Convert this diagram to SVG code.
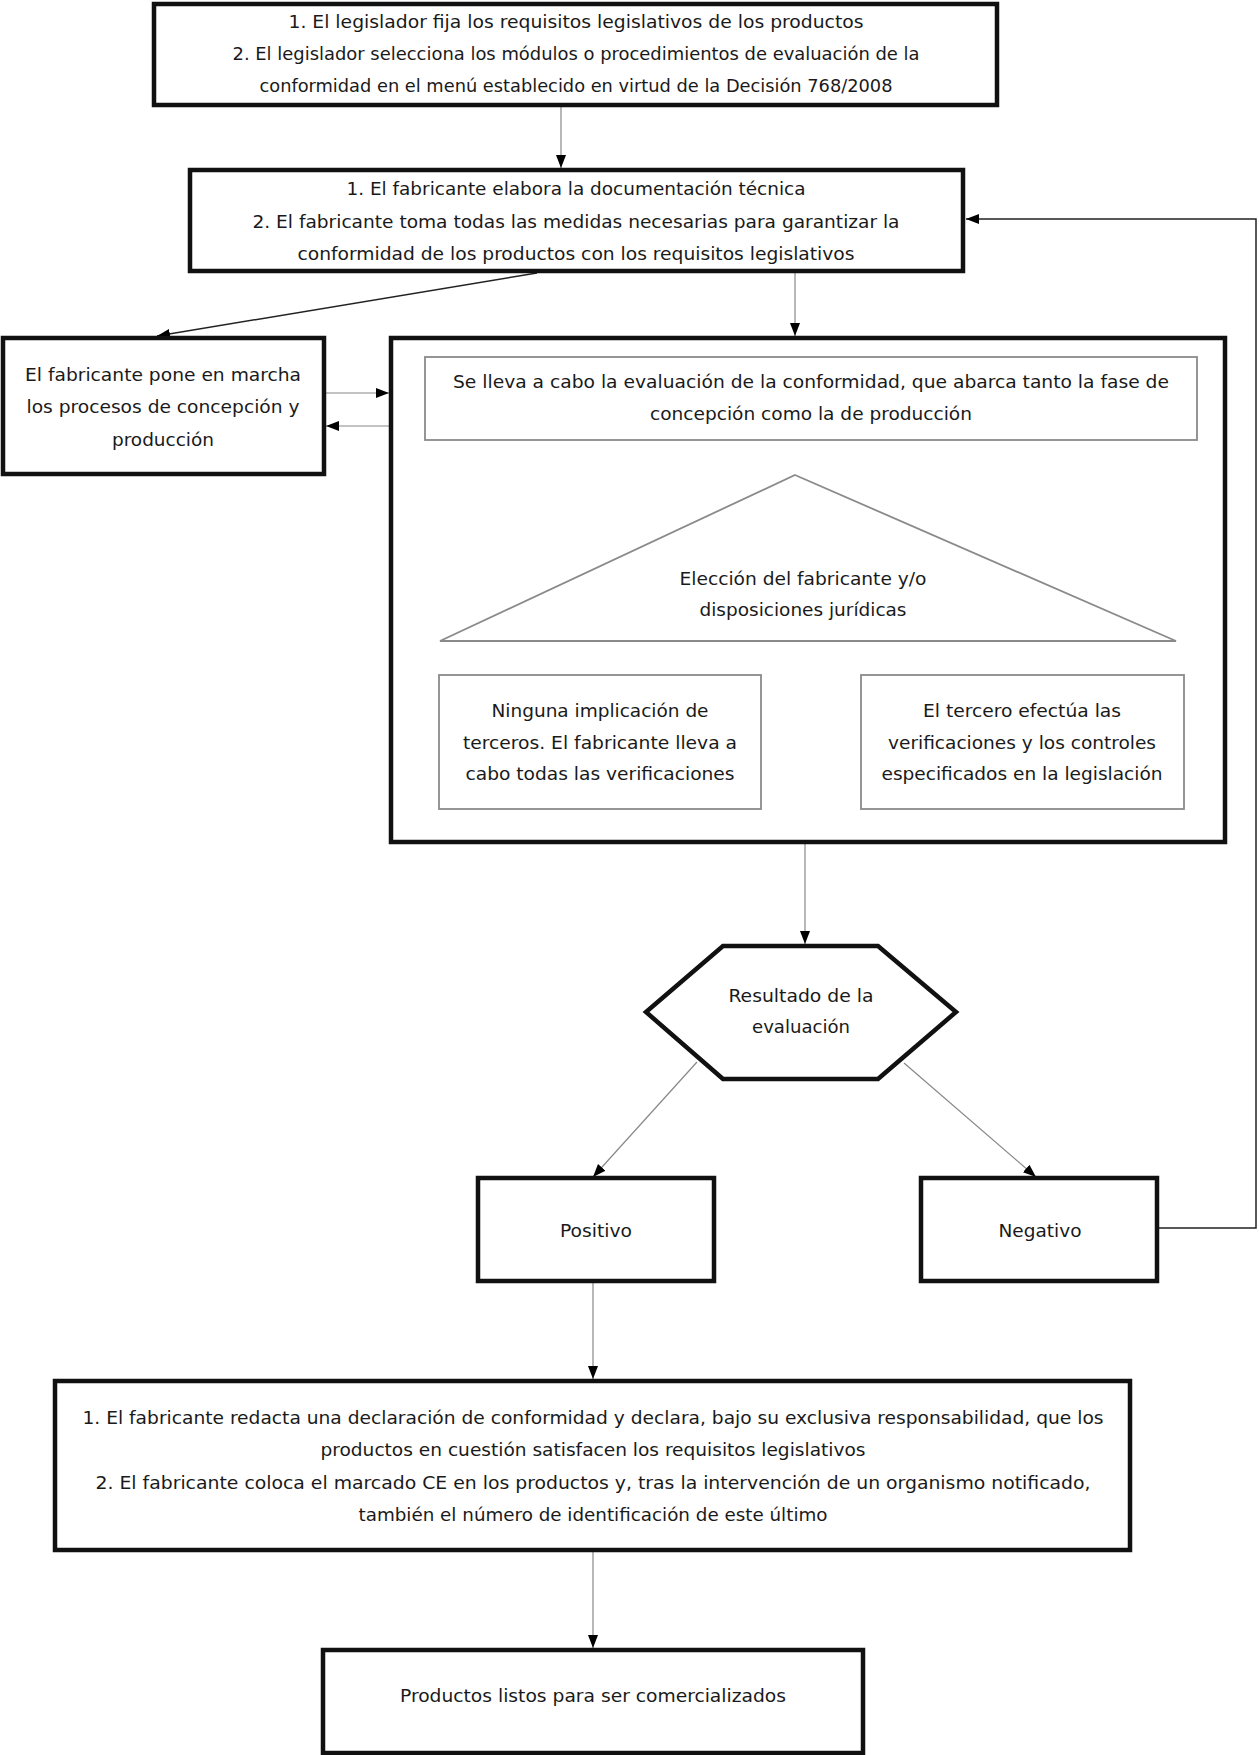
<svg xmlns="http://www.w3.org/2000/svg" width="1259" height="1755" viewBox="0 0 1259 1755">
<style>
text{font-family:"DejaVu Sans Condensed","DejaVu Sans",sans-serif;font-size:18px;fill:#1a1a1a;text-anchor:middle;font-stretch:condensed}
.b{fill:#fff;stroke:#111;stroke-width:4.5}
.t{fill:#fff;stroke:#8a8a8a;stroke-width:1.8}
.c{fill:none;stroke:#888;stroke-width:1.2}
.d{fill:none;stroke:#222;stroke-width:1.5}
</style>
<defs>
<marker id="ah" markerUnits="userSpaceOnUse" markerWidth="14" markerHeight="12" refX="13" refY="5" orient="auto">
<path d="M0,0 L13,5 L0,10 z" fill="#000"/>
</marker>
</defs>
<rect width="1259" height="1755" fill="#fff"/>
<g id="connectors">
<path class="c" d="M561,105 V168" marker-end="url(#ah)"/>
<path class="d" d="M537,273 L157,336" marker-end="url(#ah)"/>
<path class="c" d="M795,273 V336" marker-end="url(#ah)"/>
<path class="c" d="M324,393 H389" marker-end="url(#ah)"/>
<path class="c" d="M390,426 H326" marker-end="url(#ah)"/>
<path class="c" d="M795,440 V473" marker-end="url(#ah)"/>
<path class="c" d="M586,641 V674" marker-end="url(#ah)"/>
<path class="c" d="M1022,641 V674" marker-end="url(#ah)"/>
<path class="c" d="M593,809 V841" marker-end="url(#ah)"/>
<path class="c" d="M1030,809 V841" marker-end="url(#ah)"/>
<path class="c" d="M805,844 V944" marker-end="url(#ah)"/>
<path class="c" d="M697,1062 L593,1177" marker-end="url(#ah)"/>
<path class="c" d="M904,1063 L1036,1177" marker-end="url(#ah)"/>
<path class="d" d="M1157,1228 H1256 V219 H966" marker-end="url(#ah)"/>
<path class="c" d="M593,1281 V1379" marker-end="url(#ah)"/>
<path class="c" d="M593,1550 V1648" marker-end="url(#ah)"/>
</g>
<g id="n1">
<rect class="b" x="154" y="4" width="843" height="101"/>
<text x="576" y="28" textLength="575" lengthAdjust="spacingAndGlyphs">1. El legislador fija los requisitos legislativos de los productos</text>
<text x="576" y="60" textLength="687" lengthAdjust="spacingAndGlyphs">2. El legislador selecciona los módulos o procedimientos de evaluación de la</text>
<text x="576" y="92" textLength="633" lengthAdjust="spacingAndGlyphs">conformidad en el menú establecido en virtud de la Decisión 768/2008</text>
</g>
<g id="n2">
<rect class="b" x="190" y="170" width="773" height="101"/>
<text x="576" y="195" textLength="459" lengthAdjust="spacingAndGlyphs">1. El fabricante elabora la documentación técnica</text>
<text x="576" y="228" textLength="647" lengthAdjust="spacingAndGlyphs">2. El fabricante toma todas las medidas necesarias para garantizar la</text>
<text x="576" y="260" textLength="557" lengthAdjust="spacingAndGlyphs">conformidad de los productos con los requisitos legislativos</text>
</g>
<g id="n3">
<rect class="b" x="3" y="338" width="321" height="136"/>
<text x="163" y="381" textLength="276" lengthAdjust="spacingAndGlyphs">El fabricante pone en marcha</text>
<text x="163" y="413" textLength="273" lengthAdjust="spacingAndGlyphs">los procesos de concepción y</text>
<text x="163" y="446" textLength="102" lengthAdjust="spacingAndGlyphs">producción</text>
</g>
<g id="n4">
<rect class="b" x="391" y="338" width="834" height="504"/>
</g>
<g id="n5">
<rect class="t" x="425" y="357" width="772" height="83"/>
<text x="811" y="388" textLength="716" lengthAdjust="spacingAndGlyphs">Se lleva a cabo la evaluación de la conformidad, que abarca tanto la fase de</text>
<text x="811" y="420" textLength="322" lengthAdjust="spacingAndGlyphs">concepción como la de producción</text>
</g>
<g id="n6">
<polygon class="t" points="795,475 1176,641 440,641"/>
<text x="803" y="585" textLength="247" lengthAdjust="spacingAndGlyphs">Elección del fabricante y/o</text>
<text x="803" y="616" textLength="207" lengthAdjust="spacingAndGlyphs">disposiciones jurídicas</text>
</g>
<g id="n7">
<rect class="t" x="439" y="675" width="322" height="134"/>
<text x="600" y="717" textLength="217" lengthAdjust="spacingAndGlyphs">Ninguna implicación de</text>
<text x="600" y="749" textLength="274" lengthAdjust="spacingAndGlyphs">terceros. El fabricante lleva a</text>
<text x="600" y="780" textLength="269" lengthAdjust="spacingAndGlyphs">cabo todas las verificaciones</text>
</g>
<g id="n8">
<rect class="t" x="861" y="675" width="323" height="134"/>
<text x="1022" y="717" textLength="198" lengthAdjust="spacingAndGlyphs">El tercero efectúa las</text>
<text x="1022" y="749" textLength="268" lengthAdjust="spacingAndGlyphs">verificaciones y los controles</text>
<text x="1022" y="780" textLength="281" lengthAdjust="spacingAndGlyphs">especificados en la legislación</text>
</g>
<g id="n9">
<polygon class="b" points="723,946 878,946 956,1012 878,1079 723,1079 646,1012"/>
<text x="801" y="1002" textLength="145" lengthAdjust="spacingAndGlyphs">Resultado de la</text>
<text x="801" y="1033" textLength="98" lengthAdjust="spacingAndGlyphs">evaluación</text>
</g>
<g id="n10">
<rect class="b" x="478" y="1178" width="236" height="103"/>
<text x="596" y="1237" textLength="72" lengthAdjust="spacingAndGlyphs">Positivo</text>
</g>
<g id="n11">
<rect class="b" x="921" y="1178" width="236" height="103"/>
<text x="1040" y="1237" textLength="83" lengthAdjust="spacingAndGlyphs">Negativo</text>
</g>
<g id="n12">
<rect class="b" x="55" y="1381" width="1075" height="169"/>
<text x="593" y="1424" textLength="1021" lengthAdjust="spacingAndGlyphs">1. El fabricante redacta una declaración de conformidad y declara, bajo su exclusiva responsabilidad, que los</text>
<text x="593" y="1456" textLength="545" lengthAdjust="spacingAndGlyphs">productos en cuestión satisfacen los requisitos legislativos</text>
<text x="593" y="1489" textLength="995" lengthAdjust="spacingAndGlyphs">2. El fabricante coloca el marcado CE en los productos y, tras la intervención de un organismo notificado,</text>
<text x="593" y="1521" textLength="469" lengthAdjust="spacingAndGlyphs">también el número de identificación de este último</text>
</g>
<g id="n13">
<rect class="b" x="323" y="1650" width="540" height="103"/>
<text x="593" y="1702" textLength="386" lengthAdjust="spacingAndGlyphs">Productos listos para ser comercializados</text>
</g>
</svg>
